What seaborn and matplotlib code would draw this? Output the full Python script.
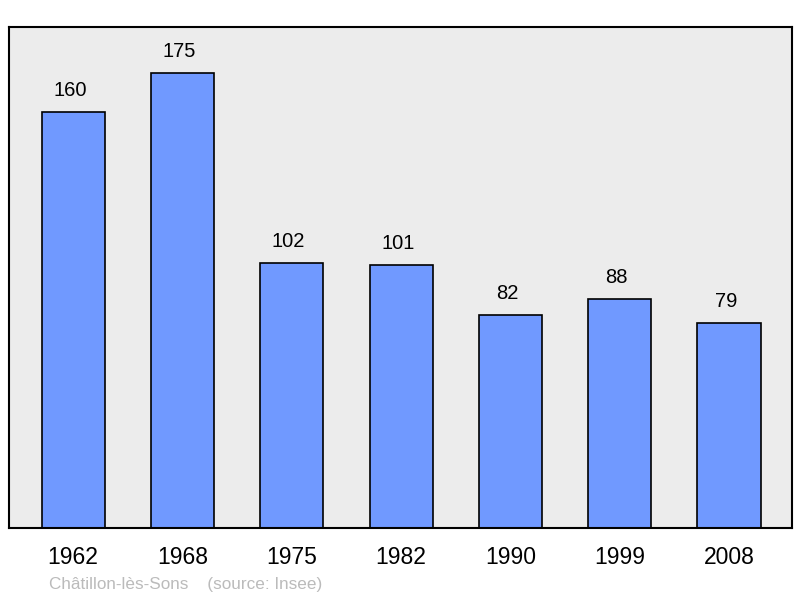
import matplotlib
matplotlib.use('Agg')
import matplotlib.pyplot as plt
import seaborn as sns
import pandas as pd

# data
years = ['1962', '1968', '1975', '1982', '1990', '1999', '2008']
population = [160, 175, 102, 101, 82, 88, 79]

df = pd.DataFrame({'year': years, 'pop': population})

sns.set_style('white')
plt.rcParams['font.family'] = ['Liberation Sans', 'DejaVu Sans']
plt.rcParams['text.color'] = 'black'
plt.rcParams['xtick.color'] = 'black'

fig = plt.figure(figsize=(8, 5.98), dpi=100)
ax = fig.add_axes([9 / 800, 1 - 528 / 598, 783 / 800, 501 / 598])
ax.set_facecolor('#ececec')

sns.barplot(data=df, x='year', y='pop', color='#7099ff', width=0.577,
            edgecolor='black', linewidth=1.2, saturation=1, ax=ax)

for i, v in enumerate(population):
    ax.text(i - 0.03, v + 8.3, str(v), ha='center', va='center',
            fontsize=14.5, color='black')

ax.set_xlim(-0.586, 6.576)
ax.set_ylim(0, 192.7)
ax.set_yticks([])
ax.set_xlabel('')
ax.set_ylabel('')
ax.tick_params(axis='x', length=0, pad=13, labelsize=16.5, labelcolor='black')
for s in ax.spines.values():
    s.set_visible(True)
    s.set_color('black')
    s.set_linewidth(1.5)

fig.text(49 / 800, 1 - 584 / 598, 'Châtillon-lès-Sons    (source: Insee)',
         color='#bbbbbb', fontsize=12.3, va='center', ha='left')

fig.savefig('out.png', dpi=100)
